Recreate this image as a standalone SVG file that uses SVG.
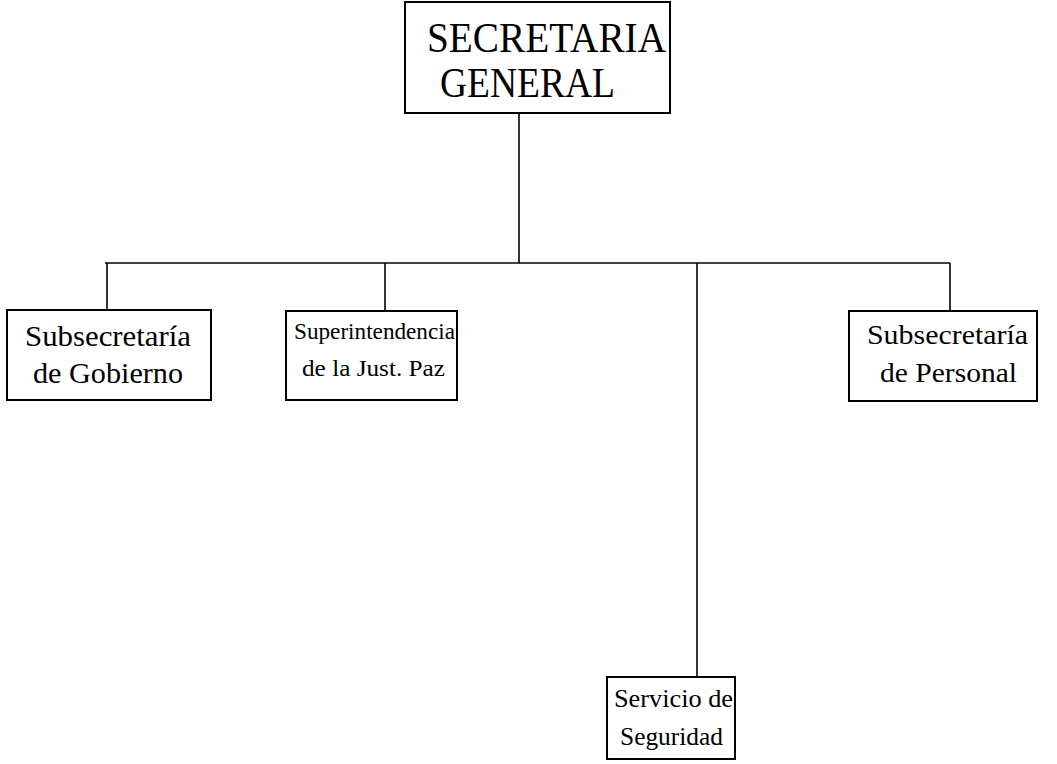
<svg xmlns="http://www.w3.org/2000/svg" width="1057" height="764" viewBox="0 0 1057 764">
<style>
.box{fill:#fff;stroke:#000;stroke-width:2}
.ln{stroke:#000;stroke-width:1.6;fill:none}
text{font-family:"Liberation Serif","Times New Roman",serif;fill:#000}
</style>
<rect width="1057" height="764" fill="#fff"/>
<g id="connectors">
<line class="ln" x1="519" y1="113" x2="519" y2="263"/>
<line class="ln" x1="105" y1="263" x2="950" y2="263"/>
<line class="ln" x1="107" y1="263" x2="107" y2="310"/>
<line class="ln" x1="385" y1="263" x2="385" y2="311"/>
<line class="ln" x1="697" y1="263" x2="697" y2="677"/>
<line class="ln" x1="950" y1="263" x2="950" y2="311"/>
</g>
<g id="secretaria-general">
<rect class="box" x="405" y="2" width="265" height="111"/>
<text x="427" y="52" font-size="42" textLength="239" lengthAdjust="spacingAndGlyphs">SECRETARIA</text>
<text x="440" y="97" font-size="42" textLength="175" lengthAdjust="spacingAndGlyphs">GENERAL</text>
</g>
<g id="subsecretaria-gobierno">
<rect class="box" x="7" y="310" width="204" height="90"/>
<text x="25" y="346" font-size="30" textLength="166" lengthAdjust="spacingAndGlyphs">Subsecretaría</text>
<text x="33" y="383" font-size="30" textLength="150" lengthAdjust="spacingAndGlyphs">de Gobierno</text>
</g>
<g id="superintendencia">
<rect class="box" x="286" y="311" width="171" height="89"/>
<text x="294" y="339" font-size="23" textLength="161" lengthAdjust="spacingAndGlyphs">Superintendencia</text>
<text x="302" y="376" font-size="24" textLength="143" lengthAdjust="spacingAndGlyphs">de la Just. Paz</text>
</g>
<g id="subsecretaria-personal">
<rect class="box" x="849" y="311" width="188" height="90"/>
<text x="867" y="344" font-size="28" textLength="161" lengthAdjust="spacingAndGlyphs">Subsecretaría</text>
<text x="880" y="382" font-size="28" textLength="137" lengthAdjust="spacingAndGlyphs">de Personal</text>
</g>
<g id="servicio-seguridad">
<rect class="box" x="607" y="677" width="128" height="82"/>
<text x="614" y="707" font-size="25" textLength="119" lengthAdjust="spacingAndGlyphs">Servicio de</text>
<text x="620" y="745" font-size="25" textLength="103" lengthAdjust="spacingAndGlyphs">Seguridad</text>
</g>
</svg>
